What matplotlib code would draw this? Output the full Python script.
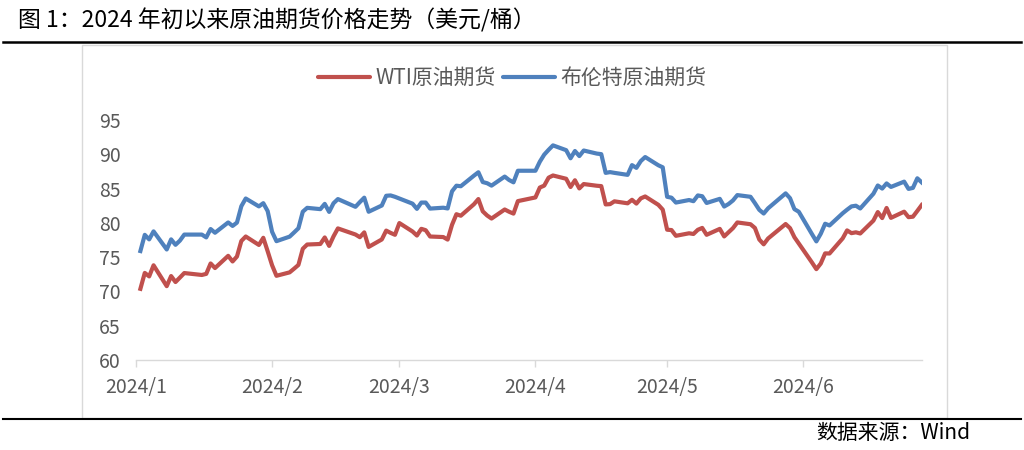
import matplotlib
matplotlib.use('Agg')
import matplotlib.pyplot as plt
import matplotlib.dates as mdates
from matplotlib.lines import Line2D
from matplotlib.patches import Rectangle
import pandas as pd

plt.rcParams['font.family'] = ['Noto Sans CJK SC', 'DejaVu Sans']

# trading days shown on the chart
holidays = ['2024-01-15', '2024-02-19', '2024-03-29', '2024-05-27']
dates = pd.bdate_range('2024-01-02', '2024-06-28').drop(pd.to_datetime(holidays))

wti = [70.38, 72.70, 72.19, 73.81, 70.77, 72.24, 71.37, 72.02, 72.68, 72.40, 72.56,
       74.08, 73.41, 75.19, 74.37, 75.09, 77.36, 78.01, 76.78, 77.82, 75.85,
       73.82, 72.28, 72.78, 73.31, 73.86, 76.22, 76.84, 76.92, 77.87, 76.64,
       78.03, 79.19, 78.30, 77.91, 78.61, 76.49, 77.58, 78.87, 78.54, 78.26,
       79.97, 78.74, 78.15, 79.13, 78.93, 78.01, 77.93, 77.56, 79.72, 81.26,
       81.04, 82.72, 83.47, 81.68, 81.07, 80.63, 81.95, 81.62, 81.35, 83.17,
       83.71, 85.15, 85.43, 86.59, 86.91, 86.43, 85.23, 86.21, 85.02, 85.66, 85.41,
       85.36, 82.69, 82.73, 83.14, 82.85, 83.36, 82.81, 83.57, 83.85, 82.63, 81.93,
       79.00, 78.95, 78.11, 78.48, 78.38, 78.99, 79.26, 78.26, 79.12, 78.02, 78.63,
       79.23, 80.06, 79.80, 79.26, 77.57, 76.87, 77.72, 79.83, 79.23, 77.91, 76.99,
       74.22, 73.25, 74.07, 75.55, 75.53, 77.74, 78.90, 78.50, 78.62, 78.45,
       80.33, 81.57, 80.70, 82.17, 80.73, 81.63, 80.83, 80.90, 81.74, 82.60]

brent = [75.89, 78.25, 77.59, 78.76, 76.12, 77.59, 76.80, 77.41, 78.29, 78.29, 77.88,
         79.10, 78.56, 80.06, 79.55, 80.04, 82.43, 83.55, 82.40, 82.87, 81.71,
         78.70, 77.33, 77.99, 78.59, 79.21, 81.63, 82.19, 82.00, 82.77, 81.60,
         82.86, 83.47, 82.34, 83.03, 83.67, 81.62, 82.53, 83.95, 84.00, 83.80,
         83.55, 82.80, 82.04, 82.96, 82.96, 82.08, 82.21, 82.10, 84.60, 85.42,
         85.34, 86.89, 87.38, 85.95, 85.78, 85.43, 86.75, 86.25, 85.91, 87.60,
         87.60, 88.92, 89.95, 90.65, 91.30, 90.60, 89.42, 90.48, 89.74, 90.55, 90.10,
         90.02, 87.29, 87.40, 87.29, 87.00, 88.42, 88.02, 89.01, 89.60, 88.40, 88.10,
         83.80, 83.67, 82.96, 83.33, 83.16, 84.00, 83.88, 82.90, 83.50, 82.38, 82.75,
         83.27, 84.05, 83.80, 82.88, 81.90, 81.36, 82.12, 84.30, 83.60, 82.00, 81.62,
         78.36, 77.30, 78.41, 79.87, 79.62, 81.40, 81.92, 82.40, 82.50, 82.10,
         84.25, 85.45, 85.00, 85.75, 85.24, 86.01, 84.95, 85.10, 86.50, 85.90]

month_ticks = pd.date_range('2024-01-01', '2024-06-01', freq='MS')
month_labels = ['2024/1', '2024/2', '2024/3', '2024/4', '2024/5', '2024/6']
y_ticks = [60, 65, 70, 75, 80, 85, 90, 95]

red = '#C0504D'
blue = '#4F81BD'
grey_text = '#595959'

fig = plt.figure(figsize=(10.24, 4.5), dpi=100)
W, H = 1024, 450

# title and rules
fig.text(18 / W, 1 - 20 / H, '图 1：2024 年初以来原油期货价格走势（美元/桶）',
         fontsize=16.5, color='black', va='center', ha='left', fontweight='medium')
fig.add_artist(Line2D([3 / W, 1021 / W], [1 - 42 / H] * 2, color='black', lw=1.8))
fig.add_artist(Line2D([3 / W, 1021 / W], [1 - 419 / H] * 2, color='black', lw=1.5))
fig.add_artist(Rectangle((82 / W, 1 - 418 / H), (947 - 82) / W, (418 - 45) / H,
                         fill=False, edgecolor='#D9D9D9', lw=1))

ax = fig.add_axes([136 / W, 1 - 360 / H, (921.7 - 136) / W, 240 / H])
ax.plot(dates, wti, color=red, lw=3, solid_joinstyle='round', label='WTI原油期货')
ax.plot(dates, brent, color=blue, lw=3, solid_joinstyle='round', label='布伦特原油期货')

ax.set_xlim(pd.Timestamp('2024-01-01'), pd.Timestamp('2024-06-28'))
ax.set_ylim(60, 95)
ax.set_yticks(y_ticks)
ax.set_xticks(month_ticks)
ax.set_xticklabels(month_labels)

for s in ['top', 'right', 'left']:
    ax.spines[s].set_visible(False)
ax.spines['bottom'].set_color('#D9D9D9')
ax.spines['bottom'].set_linewidth(1)
ax.tick_params(axis='y', length=0, pad=11, labelsize=14, labelcolor=grey_text)
ax.tick_params(axis='x', length=5, width=1, color='#D9D9D9', pad=7,
               labelsize=14, labelcolor=grey_text)

leg = fig.legend(loc='center', bbox_to_anchor=(512 / W, 1 - 78 / H), ncol=2,
                 frameon=False, fontsize=15, handlelength=2.5, handletextpad=0.25,
                 columnspacing=0.35, labelcolor=grey_text)
for h in leg.get_lines():
    h.set_solid_capstyle('round')

fig.text(970 / W, 1 - 433 / H, '数据来源：Wind', fontsize=15, color='black',
         ha='right', va='center', fontweight='medium')

fig.savefig('out.png', dpi=100)
